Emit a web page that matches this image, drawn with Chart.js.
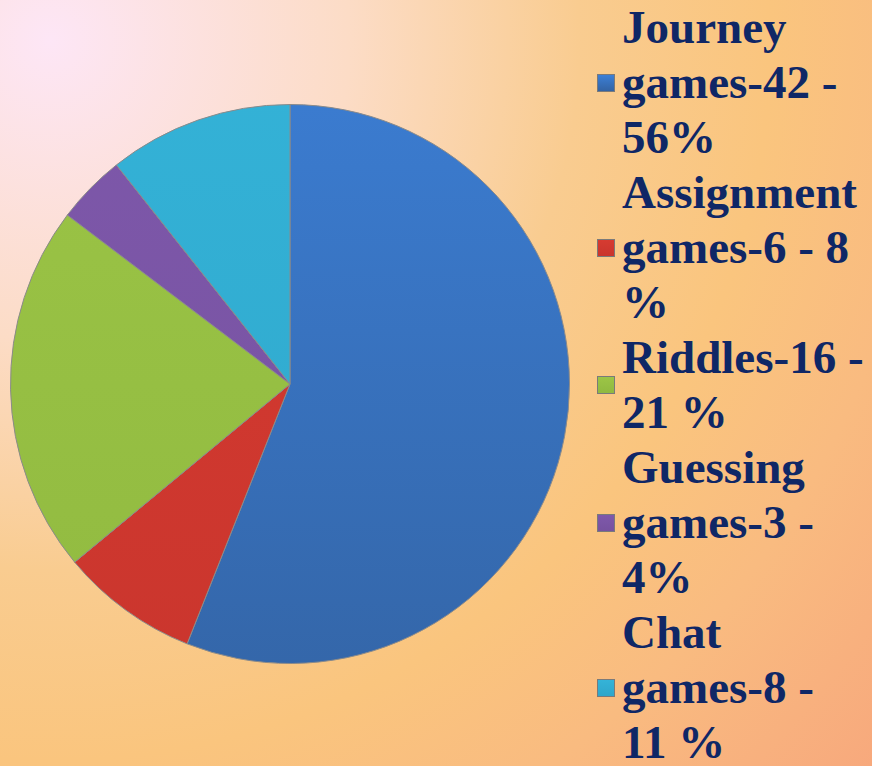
<!DOCTYPE html>
<html>
<head>
<meta charset="utf-8">
<script src="https://cdn.jsdelivr.net/npm/chart.js@4.4.1/dist/chart.umd.min.js"></script>
<style>
  html, body {
    margin: 0;
    padding: 0;
    width: 872px;
    height: 766px;
    overflow: hidden;
  }
  body {
    position: relative;
    background: radial-gradient(circle at 50px 40px, #fde6f6 0px, #fcdcc6 300px, #f9cc90 530px, #fac57e 720px, #f9bb80 880px, #f7a67c 1130px);
  }
  #chartBox {
    position: absolute;
    left: 0;
    top: 0;
  }
  #legend {
    position: absolute;
    left: 597px;
    top: 0;
    width: 275px;
    font-family: "Liberation Serif", "Times New Roman", serif;
    font-weight: bold;
    font-size: 47px;
    line-height: 55px;
    color: #0f2766;
  }
  .entry {
    display: flex;
    align-items: center;
  }
  .swatch {
    width: 16px;
    height: 16px;
    border: 1px solid #7a7a7a;
    margin-right: 7px;
    flex: none;
  }
  .label {
    width: 244px;
  }
</style>
</head>
<body>
<div id="chartBox"><canvas id="gamesPie" width="580" height="766"></canvas></div>
<div id="legend"></div>

<script>
// Game types and counts
const categories = ['Journey games', 'Assignment games', 'Riddles', 'Guessing games', 'Chat games'];
const counts = [42, 6, 16, 3, 8];
const percentLabels = ['56%', '8 %', '21 %', '4%', '11 %'];

// Slice colours, lighter at the top of the pie and darker at the bottom
const topColors = ['#3c7fd6', '#d63b31', '#9cc546', '#7e58ab', '#34b3d8'];
const bottomColors = ['#3363a3', '#c9352d', '#90b940', '#76529f', '#2fa6ca'];

function sliceFill(context) {
    const chart = context.chart;
    const area = chart.chartArea;
    if (!area) return topColors[context.dataIndex];
    const g = chart.ctx.createLinearGradient(0, area.top, 0, area.bottom);
    g.addColorStop(0, topColors[context.dataIndex]);
    g.addColorStop(1, bottomColors[context.dataIndex]);
    return g;
}

const ctx = document.getElementById('gamesPie').getContext('2d');

new Chart(ctx, {
    type: 'pie',
    data: {
        labels: categories,
        datasets: [{
            data: counts,
            backgroundColor: sliceFill,
            borderColor: '#8a8a8a',
            borderWidth: 1
        }]
    },
    options: {
        responsive: false,
        animation: false,
        layout: {
            padding: { left: 10, right: 10, top: 2, bottom: 0 }
        },
        plugins: {
            legend: { display: false },
            tooltip: { enabled: false }
        }
    }
});

// Legend on the right: swatch + "name-count - percent"
const legend = document.getElementById('legend');
categories.forEach((name, i) => {
    const entry = document.createElement('div');
    entry.className = 'entry';

    const swatch = document.createElement('div');
    swatch.className = 'swatch';
    swatch.style.background = `linear-gradient(${topColors[i]}, ${bottomColors[i]})`;

    const label = document.createElement('div');
    label.className = 'label';
    label.textContent = `${name}-${counts[i]} - ${percentLabels[i]}`;

    entry.appendChild(swatch);
    entry.appendChild(label);
    legend.appendChild(entry);
});
</script>
</body>
</html>
